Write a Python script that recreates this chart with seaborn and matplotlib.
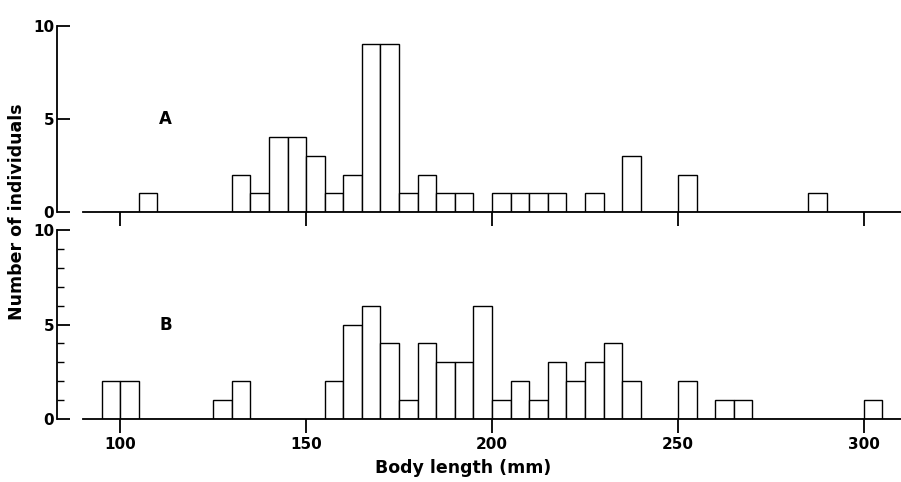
import numpy as np
import pandas as pd
import seaborn as sns
import matplotlib
matplotlib.use("Agg")
import matplotlib.pyplot as plt

# bin left edges (mm, 5 mm bins) and counts
a_left = [105, 130, 135, 140, 145, 150, 155, 160, 165, 170, 175, 180, 185, 190,
          200, 205, 210, 215, 225, 235, 250, 285]
a_count = [1, 2, 1, 4, 4, 3, 1, 2, 9, 9, 1, 2, 1, 1,
           1, 1, 1, 1, 1, 3, 2, 1]

b_left = [95, 100, 125, 130, 155, 160, 165, 170, 175, 180, 185, 190, 195,
          200, 205, 210, 215, 220, 225, 230, 235, 250, 260, 265, 300]
b_count = [2, 2, 1, 2, 2, 5, 6, 4, 1, 4, 3, 3, 6,
           1, 2, 1, 3, 2, 3, 4, 2, 2, 1, 1, 1]

xticks = [100, 150, 200, 250, 300]
binw = 5

sns.set_style("ticks")
plt.rcParams['font.family'] = ['DejaVu Sans']
plt.rcParams['axes.linewidth'] = 1.3
for key in ['text.color', 'axes.labelcolor', 'axes.edgecolor',
            'xtick.color', 'ytick.color']:
    plt.rcParams[key] = 'black'

fig = plt.figure(figsize=(9.01, 4.82), dpi=100)
ax_a = fig.add_axes([0.0633, 0.5602, 0.9367, 0.3865])
ax_b = fig.add_axes([0.0633, 0.1307, 0.9367, 0.3921])

panels = [(ax_a, a_left, a_count, "A"), (ax_b, b_left, b_count, "B")]
for ax, left, count, tag in panels:
    df = pd.DataFrame({"length": np.array(left) + binw / 2, "n": count})
    sns.histplot(data=df, x="length", weights="n", binwidth=binw,
                 binrange=(95, 310), ax=ax, color="white",
                 edgecolor="black", linewidth=1.0, alpha=1)
    ax.set_xlim(83, 310)
    ax.set_ylim(0, 10)
    ax.set_xlabel("")
    ax.set_ylabel("")
    sns.despine(ax=ax)
    ax.spines['bottom'].set_bounds(90, 310)
    ax.spines['left'].set_bounds(0, 10)
    ax.set_xticks(xticks)
    ax.set_yticks([0, 5, 10])
    ax.tick_params(axis='x', direction='out', length=10, width=1.3)
    ax.tick_params(axis='y', direction='in', length=9, width=1.3, pad=2,
                   labelsize=11)
    for lab in ax.get_yticklabels():
        lab.set_fontweight('bold')
    ax.text(110.5, 5, tag, fontsize=12, fontweight='bold', va='center')

ax_a.tick_params(axis='x', labelbottom=False)
ax_b.set_yticks(range(11), minor=True)
ax_b.tick_params(axis='y', which='minor', direction='in', length=5, width=1.0)
ax_b.tick_params(axis='x', labelsize=11, pad=3)
for lab in ax_b.get_xticklabels():
    lab.set_fontweight('bold')

fig.text(463 / 901, 1 - 468 / 482, "Body length (mm)", ha='center', va='center',
         fontsize=12.5, fontweight='bold')
fig.text(17 / 901, 1 - 212 / 482, "Number of individuals", ha='center',
         va='center', rotation=90, fontsize=12.5, fontweight='bold')

fig.savefig("out.png", dpi=100)
